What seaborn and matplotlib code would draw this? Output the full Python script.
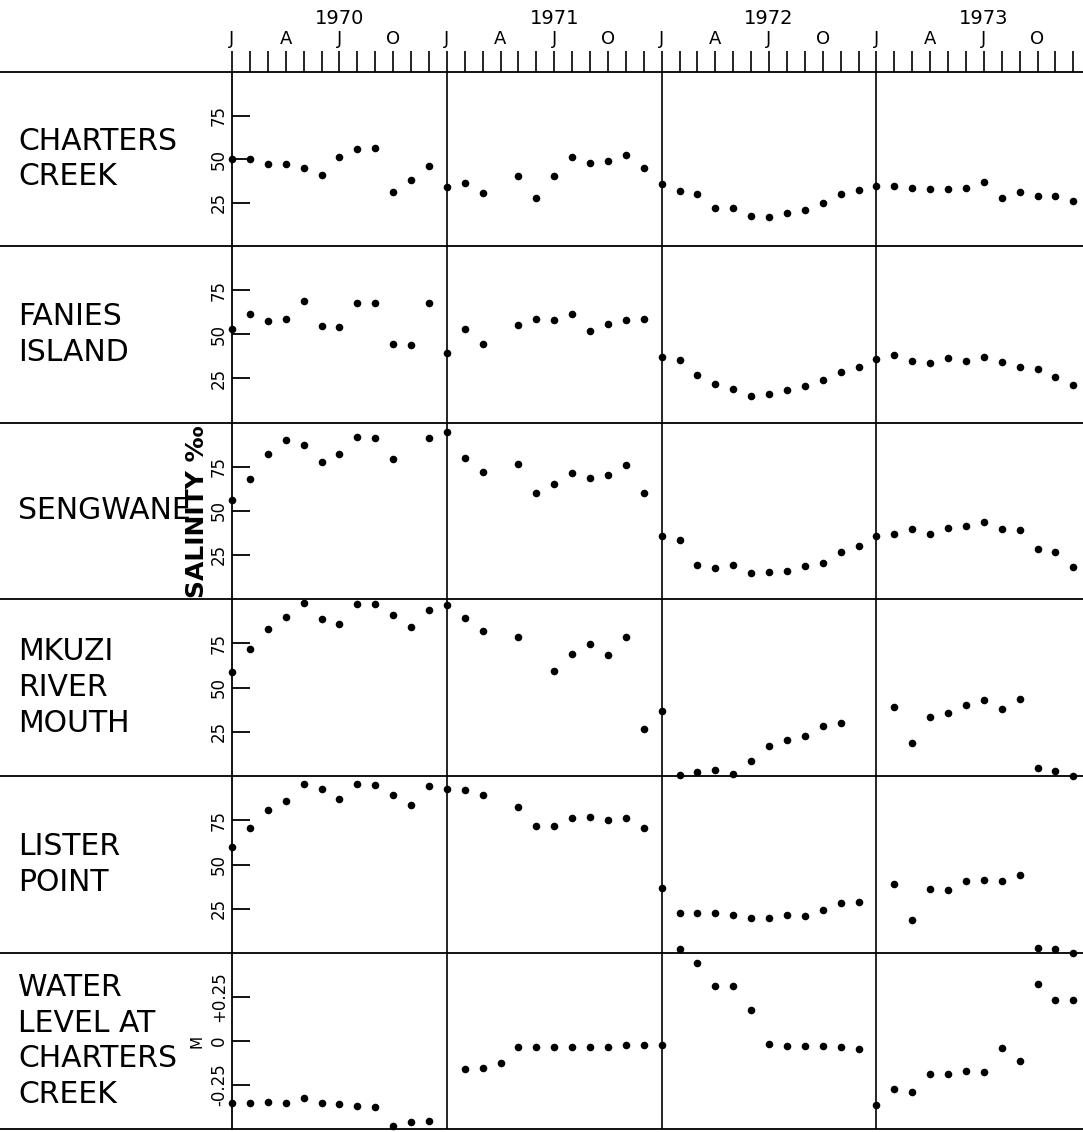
import numpy as np
import pandas as pd
import matplotlib.pyplot as plt
from matplotlib.lines import Line2D
import seaborn as sns

nan = np.nan
months = list(range(48))  # 0 = January 1970, monthly samples

stations = ['CHARTERS\nCREEK', 'FANIES\nISLAND', 'SENGWANE',
            'MKUZI\nRIVER\nMOUTH', 'LISTER\nPOINT',
            'WATER\nLEVEL AT\nCHARTERS\nCREEK']

# salinity (per mille), nan = no sample
charters = [50, 50, 47, 47, 45, 41, 51, 56, 56.5, 31, 38, 46,
            34, 36, 30.5, nan, 40, 27.5, 40, 51, 47.5, 49, 52.5, 45,
            35.5, 31.5, 30, 22, 22, 17.5, 16.5, 19, 20.5, 25, 30, 32,
            34.5, 34.5, 33.5, 32.5, 33, 33.5, 37, 27.5, 31, 28.5, 28.5, 26]
fanies = [53, 61.5, 57.5, 58.5, 69, 54.5, 54, 67.5, 67.5, 44.5, 44, 67.5,
          39.5, 53, 44.5, nan, 55.5, 58.5, 58, 61.5, 52, 56, 58, 58.5,
          37, 35.5, 27, 22, 19, 15, 16, 18.5, 20.5, 24, 28.5, 31.5,
          36, 38.5, 35, 33.5, 36.5, 35, 37, 34.5, 31.5, 30.5, 26, 21.5]
sengwane = [56, 68, 82, 90, 87, 77.5, 82, 92, 91.5, 79.5, nan, 91.5,
            94.5, 80, 72, nan, 76.5, 60, 65, 71.5, 68.5, 70, 76, 60,
            35.5, 33.5, 19, 17.5, 19.5, 15, 15.5, 16, 18.5, 20.5, 26.5, 30,
            35.5, 37, 39.5, 37, 40, 41.5, 43.5, 39.5, 39, 28.5, 26.5, 18]
mkuzi = [59, 72, 83, 90, 98, 88.5, 86, 97, 97, 91, 84, 94,
         96.5, 89, 82, nan, 78.5, nan, 59.5, 69, 74.5, 68.5, 78.5, 26.5,
         37, 0.5, 2, 3.5, 1, 8.5, 17, 20.5, 22.5, 28.5, 30, nan,
         nan, 39, 18.5, 33.5, 35.5, 40, 43, 38, 43.5, 4.5, 3, 0]
lister = [60, 70.5, 81, 86, 95.5, 92.5, 87, 95.5, 95, 89, 83.5, 94.5,
          92.5, 92, 89, nan, 82.5, 72, 71.5, 76.5, 77, 75, 76, 70.5,
          36.5, 22.5, 22.5, 22.5, 21.5, 20, 19.5, 21.5, 21, 24.5, 28.5, 29,
          nan, 39, 18.5, 36, 35.5, 40.5, 41.5, 40.5, 44, 3, 2, 0]
# water level (m)
water_level = [-0.35, -0.35, -0.345, -0.35, -0.325, -0.355, -0.36, -0.37, -0.375, -0.485, -0.46, -0.455,
               nan, -0.16, -0.155, -0.125, -0.035, -0.035, -0.035, -0.035, -0.035, -0.035, -0.025, -0.02,
               -0.025, 0.52, 0.445, 0.31, 0.31, 0.175, -0.015, -0.03, -0.03, -0.03, -0.035, -0.045,
               -0.365, -0.27, -0.29, -0.185, -0.185, -0.17, -0.175, -0.04, -0.115, 0.325, 0.235, 0.235]

month_labels = ['J', 'A', 'J', 'O'] * 4
years = ['1970', '1971', '1972', '1973']
salinity_ticks = [25, 50, 75]
level_ticks = [-0.25, 0, 0.25]
level_ticklabels = ['-0.25', '0', '+0.25']

sns.set_style('white')
plt.rcParams['font.family'] = ['DejaVu Sans']
plt.rcParams['text.color'] = 'black'

W, H = 1083, 1132
fig = plt.figure(figsize=(W / 100, H / 100), dpi=100)

edges = [72, 246, 422.5, 599, 776, 953, 1129]  # panel borders, px from top
left = 232
series = [charters, fanies, sengwane, mkuzi, lister, water_level]

axes = []
for i, vals in enumerate(series):
    top, bot = edges[i], edges[i + 1]
    ax = fig.add_axes([left / W, 1 - bot / H, 1 - left / W, (bot - top) / H])
    ax.patch.set_alpha(0)
    df = pd.DataFrame({'month': months, 'value': vals}).dropna()
    sns.scatterplot(data=df, x='month', y='value', ax=ax, color='black',
                    s=30, linewidth=0, clip_on=False, legend=False, zorder=3)
    ax.set_xlim(0, (W - left) / 17.9)
    ax.set_xlabel('')
    ax.set_ylabel('')
    for s in ['top', 'right', 'bottom']:
        ax.spines[s].set_visible(False)
    ax.spines['left'].set_color('black')
    ax.spines['left'].set_linewidth(1.3)
    for m in [12, 24, 36]:
        ax.axvline(m, color='black', lw=1.2, zorder=1)
    if i < 5:
        ax.set_ylim(0, 100)
        ax.set_yticks(salinity_ticks)
        ax.set_yticklabels([str(t) for t in salinity_ticks])
    else:
        ax.set_ylim(-0.5, 0.5)
        ax.set_yticks(level_ticks)
        ax.set_yticklabels(level_ticklabels)
    ax.tick_params(axis='y', direction='in', length=13, width=1.3, left=True,
                   labelrotation=90, labelsize=12, pad=3, colors='black')
    for lbl in ax.get_yticklabels():
        lbl.set_va('center')
    ax.set_xticks([])
    axes.append(ax)

# month ticks along the top
ax0 = axes[0]
ax0.xaxis.set_ticks_position('top')
ax0.set_xticks(range(0, 48, 3))
ax0.set_xticklabels(month_labels)
ax0.set_xticks(range(48), minor=True)
ax0.tick_params(axis='x', which='both', direction='out', length=15, width=1.2,
                top=True, bottom=False, labeltop=True, labelbottom=False,
                labelsize=13, pad=2, colors='black')
for i, yr in enumerate(years):
    ax0.text(6 + 12 * i, 1.31, yr, transform=ax0.get_xaxis_transform(),
             ha='center', va='center', fontsize=14)

# horizontal rules between the stations
for e in edges:
    fig.add_artist(Line2D([0, 1], [1 - e / H] * 2, transform=fig.transFigure,
                          color='black', lw=1.3))

for i, name in enumerate(stations):
    yc = (edges[i] + edges[i + 1]) / 2
    fig.text(18 / W, 1 - yc / H, name, fontsize=21.5, ha='left', va='center',
             linespacing=1.3)

fig.text(197 / W, 1 - 512 / H, 'SALINITY ‰', rotation=90, fontsize=18,
         fontweight='bold', ha='center', va='center')
fig.text(197 / W, 1 - 1041 / H, 'M', rotation=90, fontsize=11,
         ha='center', va='center')

fig.savefig('out.png', dpi=100)
